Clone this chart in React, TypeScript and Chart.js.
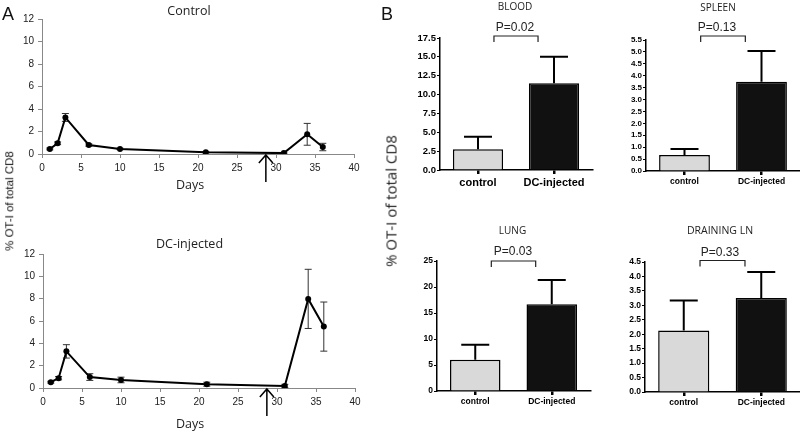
import React, { useEffect, useRef } from "react";
import { Chart, registerables } from "chart.js";

Chart.register(...registerables);

// ---------- Data ----------
const days = [1, 2, 3, 6, 10, 21, 31, 34, 36];
const controlMean = [0.45, 0.95, 3.25, 0.8, 0.45, 0.15, 0.08, 1.75, 0.62];
const controlErr = [0.08, 0.12, 0.35, 0.1, 0.06, 0.05, 0.04, 0.97, 0.33];
const dcMean = [0.52, 0.88, 3.28, 0.98, 0.72, 0.34, 0.18, 7.98, 5.5];
const dcErr = [0.08, 0.15, 0.6, 0.3, 0.25, 0.18, 0.15, 2.65, 2.2];
const arrowDay = 28.7;

const groups = ["control", "DC-injected"];
const bloodMean = [2.75, 11.5];
const bloodErr = [1.65, 3.5];
const spleenMean = [0.67, 3.75];
const spleenErr = [0.25, 1.29];
const lungMean = [6.0, 16.7];
const lungErr = [2.9, 4.65];
const lnMean = [2.13, 3.25];
const lnErr = [1.04, 0.9];

const pBlood = "P=0.02";
const pSpleen = "P=0.13";
const pLung = "P=0.03";
const pLn = "P=0.33";

// ---------- Styles ----------
const SANS = '"Liberation Sans", Arial, sans-serif';
const OPEN = '"Open Sans", "DejaVu Sans", sans-serif';

type Rect = { left: number; top: number; width: number; height: number };
type Area = { l: number; t: number; r: number; b: number };

function errPlugin(errs: number[], cap: number, lw: number, color: string, upOnly: boolean) {
  const draw = (chart: any) => {
    const ctx = chart.ctx;
    const meta = chart.getDatasetMeta(0);
    const ys = chart.scales.y;
    const data = chart.data.datasets[0].data;
    ctx.save();
    ctx.strokeStyle = color;
    ctx.lineWidth = lw;
    meta.data.forEach((el: any, i: number) => {
      const raw = data[i];
      const v = typeof raw === "number" ? raw : raw.y;
      const x = el.x;
      const yTop = ys.getPixelForValue(v + errs[i]);
      const yBot = upOnly ? el.y : ys.getPixelForValue(Math.max(0, v - errs[i]));
      ctx.beginPath();
      ctx.moveTo(x, yTop);
      ctx.lineTo(x, yBot);
      ctx.moveTo(x - cap, yTop);
      ctx.lineTo(x + cap, yTop);
      if (!upOnly) {
        ctx.moveTo(x - cap, yBot);
        ctx.lineTo(x + cap, yBot);
      }
      ctx.stroke();
    });
    ctx.restore();
  };
  return upOnly
    ? { id: "errbars", afterDatasetsDraw: draw }
    : { id: "errbars", beforeDatasetsDraw: draw };
}

function arrowPlugin(day: number) {
  return {
    id: "arrow",
    afterDraw(chart: any) {
      const ctx = chart.ctx;
      const x = chart.scales.x.getPixelForValue(day);
      const y0 = chart.scales.y.getPixelForValue(0);
      ctx.save();
      ctx.strokeStyle = "#000";
      ctx.lineWidth = 1.5;
      ctx.beginPath();
      ctx.moveTo(x, y0 + 1);
      ctx.lineTo(x, y0 + 28);
      ctx.moveTo(x - 7, y0 + 9);
      ctx.lineTo(x, y0 + 1);
      ctx.lineTo(x + 7, y0 + 9);
      ctx.stroke();
      ctx.restore();
    },
  };
}

function bracketPlugin(offset: number) {
  return {
    id: "bracket",
    afterDraw(chart: any) {
      const ctx = chart.ctx;
      const xs = chart.scales.x;
      const c0 = xs.getPixelForValue(0);
      const c1 = xs.getPixelForValue(1);
      const g = c1 - c0;
      const x0 = c0 + 0.21 * g;
      const x1 = c1 - 0.21 * g;
      const y = chart.chartArea.top + offset;
      ctx.save();
      ctx.strokeStyle = "#222";
      ctx.lineWidth = 1.2;
      ctx.beginPath();
      ctx.moveTo(x0, y + 6);
      ctx.lineTo(x0, y);
      ctx.lineTo(x1, y);
      ctx.lineTo(x1, y + 6);
      ctx.stroke();
      ctx.restore();
    },
  };
}

function lineConfig(mean: number[], err: number[], cv: Rect, a: Area) {
  return {
    type: "line",
    data: {
      datasets: [
        {
          data: days.map((d, i) => ({ x: d, y: mean[i] })),
          borderColor: "#000",
          borderWidth: 2,
          pointRadius: 3,
          pointBorderWidth: 0,
          pointBackgroundColor: "#000",
          pointBorderColor: "#000",
          tension: 0,
        },
      ],
    },
    options: {
      responsive: false,
      animation: false,
      layout: {
        padding: { left: 0, top: a.t - cv.top, right: cv.left + cv.width - a.r, bottom: 0 },
      },
      plugins: { legend: { display: false }, tooltip: { enabled: false }, title: { display: false } },
      scales: {
        x: {
          type: "linear",
          min: 0,
          max: 40,
          ticks: { stepSize: 5, color: "#222", font: { family: SANS, size: 10 }, padding: 4, maxRotation: 0 },
          grid: { drawOnChartArea: false, tickLength: 4, color: "#888" },
          border: { color: "#888", width: 1 },
          afterFit: (s: any) => {
            s.height = cv.top + cv.height - a.b;
          },
        },
        y: {
          min: 0,
          max: 12,
          ticks: { stepSize: 2, color: "#222", font: { family: SANS, size: 10 }, padding: 4 },
          grid: { drawOnChartArea: false, tickLength: 4, color: "#888" },
          border: { color: "#888", width: 1 },
          afterFit: (s: any) => {
            s.width = a.l - cv.left;
          },
        },
      },
    },
    plugins: [errPlugin(err, 3.5, 1, "#333", false), arrowPlugin(arrowDay)],
  };
}

function barConfig(
  mean: number[],
  err: number[],
  max: number,
  step: number,
  decimals: number,
  cv: Rect,
  a: Area,
  yFont: any,
  xFont: any,
  bracketOffset: number
) {
  return {
    type: "bar",
    data: {
      labels: groups,
      datasets: [
        {
          data: mean,
          backgroundColor: ["#d9d9d9", "#111111"],
          borderColor: "#000",
          borderWidth: 1.5,
          categoryPercentage: 1,
          barPercentage: 0.66,
        },
      ],
    },
    options: {
      responsive: false,
      animation: false,
      layout: {
        padding: { left: 0, top: a.t - cv.top, right: cv.left + cv.width - a.r, bottom: 0 },
      },
      plugins: { legend: { display: false }, tooltip: { enabled: false }, title: { display: false } },
      scales: {
        x: {
          type: "category",
          offset: true,
          ticks: { color: "#000", font: xFont, padding: 2, maxRotation: 0, autoSkip: false },
          grid: { offset: false, drawOnChartArea: false, tickLength: 4, color: "#000", lineWidth: 2.5 },
          border: { color: "#000", width: 1.5 },
          afterFit: (s: any) => {
            s.height = cv.top + cv.height - a.b;
          },
        },
        y: {
          min: 0,
          max: max,
          ticks: {
            stepSize: step,
            color: "#000",
            font: yFont,
            padding: 1,
            autoSkip: false,
            callback: (v: any) => Number(v).toFixed(decimals),
          },
          grid: { drawOnChartArea: false, tickLength: 3, color: "#000", lineWidth: 1 },
          border: { color: "#000", width: 1.5 },
          afterFit: (s: any) => {
            s.width = a.l - cv.left;
          },
        },
      },
    },
    plugins: [errPlugin(err, 14, 2, "#000", true), bracketPlugin(bracketOffset)],
  };
}

function ChartCanvas({ rect, config }: { rect: Rect; config: any }) {
  const ref = useRef<HTMLCanvasElement>(null);
  useEffect(() => {
    const chart = new Chart(ref.current as HTMLCanvasElement, config);
    return () => chart.destroy();
  }, []);
  return (
    <canvas
      ref={ref}
      width={rect.width}
      height={rect.height}
      style={{ position: "absolute", left: rect.left, top: rect.top, width: rect.width, height: rect.height }}
    />
  );
}

function Label({
  x,
  y,
  text,
  size,
  family,
  rotate,
  color,
  weight,
}: {
  x: number;
  y: number;
  text: string;
  size: number;
  family: string;
  rotate?: boolean;
  color?: string;
  weight?: number;
}) {
  return (
    <div
      style={{
        position: "absolute",
        left: x,
        top: y,
        transform: `translate(-50%, -50%)${rotate ? " rotate(-90deg)" : ""}`,
        fontSize: size,
        fontFamily: family,
        lineHeight: 1,
        whiteSpace: "nowrap",
        color: color || "#111",
        fontWeight: weight || 400,
      }}
    >
      {text}
    </div>
  );
}

const cvControl: Rect = { left: 0, top: 0, width: 372, height: 198 };
const arControl: Area = { l: 42, t: 19, r: 354, b: 154 };
const cvDc: Rect = { left: 0, top: 215, width: 372, height: 214 };
const arDc: Area = { l: 43, t: 254, r: 355, b: 388 };
const cvBlood: Rect = { left: 395, top: 0, width: 205, height: 200 };
const arBlood: Area = { l: 440, t: 38, r: 592, b: 170 };
const cvSpleen: Rect = { left: 605, top: 0, width: 195, height: 200 };
const arSpleen: Area = { l: 646, t: 40, r: 800, b: 171 };
const cvLung: Rect = { left: 395, top: 215, width: 205, height: 216 };
const arLung: Area = { l: 437, t: 261, r: 590, b: 391 };
const cvLn: Rect = { left: 605, top: 215, width: 195, height: 216 };
const arLn: Area = { l: 645, t: 262, r: 800, b: 392 };

export default function App() {
  const boldSans = (s: number) => ({ family: SANS, size: s, weight: "bold" });
  return (
    <div style={{ position: "absolute", left: 0, top: 0, width: 800, height: 431, background: "#fff", overflow: "hidden" }}>
      <ChartCanvas rect={cvControl} config={lineConfig(controlMean, controlErr, cvControl, arControl)} />
      <ChartCanvas rect={cvDc} config={lineConfig(dcMean, dcErr, cvDc, arDc)} />
      <ChartCanvas
        rect={cvBlood}
        config={barConfig(bloodMean, bloodErr, 17.5, 2.5, 1, cvBlood, arBlood, boldSans(9.5), boldSans(11), -2)}
      />
      <ChartCanvas
        rect={cvSpleen}
        config={barConfig(spleenMean, spleenErr, 5.5, 0.5, 1, cvSpleen, arSpleen, boldSans(8), boldSans(8.5), -4)}
      />
      <ChartCanvas
        rect={cvLung}
        config={barConfig(lungMean, lungErr, 25, 5, 0, cvLung, arLung, boldSans(8.5), boldSans(8.5), 0)}
      />
      <ChartCanvas
        rect={cvLn}
        config={barConfig(lnMean, lnErr, 4.5, 0.5, 1, cvLn, arLn, boldSans(8.5), boldSans(8.5), -1.5)}
      />

      <Label x={8} y={14} text="A" size={18} family={SANS} />
      <Label x={387} y={14} text="B" size={18} family={SANS} />
      <Label x={10} y={201} text="% OT-I of total CD8" size={11.5} family={SANS} rotate />
      <Label x={391} y={201} text="% OT-I of total CD8" size={15} family={OPEN} rotate color="#222" />

      <Label x={189} y={11} text="Control" size={12.5} family={OPEN} color="#222" />
      <Label x={190} y={185} text="Days" size={12.5} family={OPEN} color="#222" />
      <Label x={189.5} y={244} text="DC-injected" size={12.5} family={OPEN} color="#222" />
      <Label x={190} y={424} text="Days" size={12.5} family={OPEN} color="#222" />

      <Label x={515} y={6} text="BLOOD" size={10} family={OPEN} color="#222" />
      <Label x={515} y={27} text={pBlood} size={12} family={SANS} color="#222" />
      <Label x={718} y={7} text="SPLEEN" size={10} family={OPEN} color="#222" />
      <Label x={717} y={27} text={pSpleen} size={12} family={SANS} color="#222" />
      <Label x={512.5} y={230} text="LUNG" size={10} family={OPEN} color="#222" />
      <Label x={513} y={251} text={pLung} size={12} family={SANS} color="#222" />
      <Label x={720} y={230} text="DRAINING LN" size={10.5} family={OPEN} color="#222" />
      <Label x={720} y={252} text={pLn} size={12} family={SANS} color="#222" />
    </div>
  );
}
